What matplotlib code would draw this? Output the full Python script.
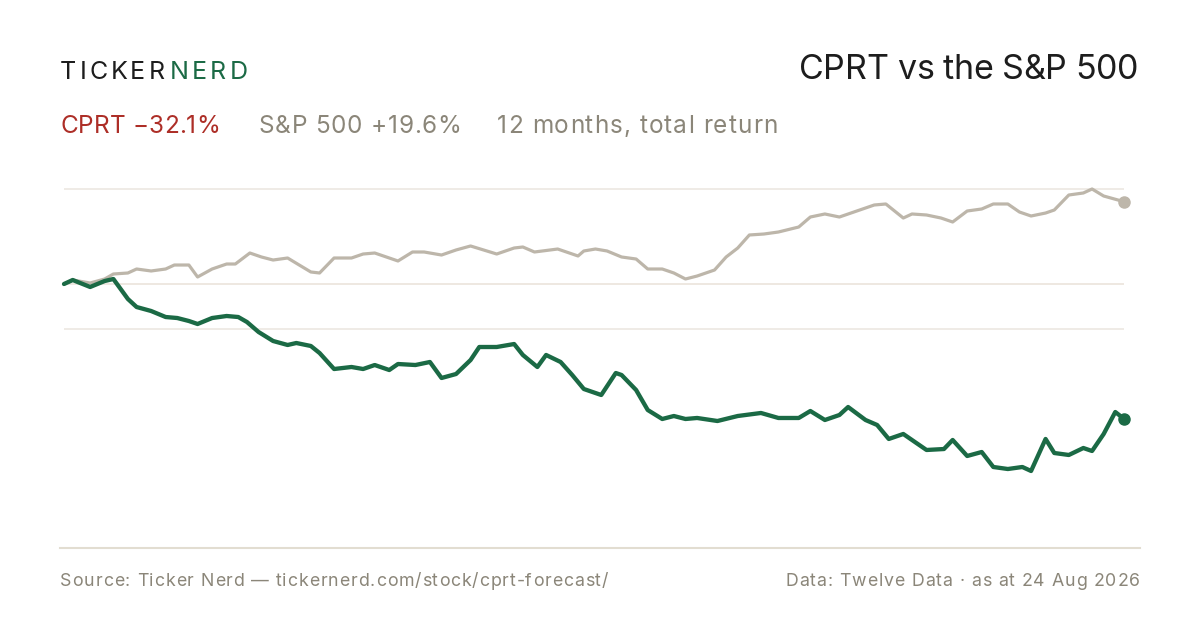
import matplotlib
matplotlib.use("Agg")
import matplotlib.pyplot as plt
from matplotlib.lines import Line2D

# ---------------- data ----------------
# days since start of the 12-month window, and total return (%)
sp_days = [0, 3, 9, 14, 17, 22, 25, 30, 35, 38, 43, 46, 51, 56, 59, 64, 68, 72, 77, 81,
           85, 88, 93, 99, 103, 107, 115, 120, 124, 130, 135, 140, 149, 155, 158, 162, 170,
           177, 179, 183, 187, 192, 197, 201, 206, 210, 214, 218, 224, 228, 232, 236, 241,
           246, 253, 257, 262, 267, 273, 279, 283, 289, 292, 297, 302, 306, 311, 316, 320,
           325, 329, 333, 338, 341, 346, 351, 354, 358, 365]
sp_ret = [0, 0.95, 0.24, 1.19, 2.38, 2.62, 3.57, 3.10, 3.57, 4.52, 4.52, 1.67, 3.57, 4.76,
          4.76, 7.38, 6.43, 5.71, 6.19, 4.52, 2.86, 2.62, 6.19, 6.19, 7.14, 7.38, 5.48, 7.62,
          7.62, 6.90, 8.10, 9.05, 7.14, 8.57, 8.81, 7.62, 8.33, 6.67, 7.86, 8.33, 7.86, 6.43,
          5.95, 3.57, 3.57, 2.62, 1.19, 1.90, 3.33, 6.43, 8.57, 11.67, 11.90, 12.38, 13.57,
          15.95, 16.67, 15.95, 17.38, 18.81, 19.05, 15.71, 16.67, 16.43, 15.71, 14.76, 17.38,
          17.86, 19.05, 19.05, 17.14, 16.19, 16.90, 17.62, 21.19, 21.67, 22.62, 20.95, 19.6]

cprt_days = [0, 3, 9, 14, 17, 22, 25, 30, 35, 39, 43, 46, 51, 56, 60, 63, 67, 72, 77, 80,
             85, 88, 93, 99, 103, 107, 112, 115, 121, 126, 130, 135, 140, 143, 149, 155, 158,
             163, 166, 171, 175, 179, 185, 190, 192, 197, 201, 206, 210, 214, 218, 225, 232,
             240, 246, 253, 257, 262, 267, 270, 276, 280, 284, 289, 293, 297, 303, 306, 311,
             316, 320, 325, 330, 333, 338, 341, 346, 351, 354, 358, 362, 365]
cprt_ret = [0, 0.95, -0.71, 0.71, 1.19, -3.57, -5.48, -6.43, -7.86, -8.10, -8.81, -9.52,
            -8.10, -7.62, -7.86, -9.05, -11.43, -13.57, -14.52, -14.05, -14.76, -16.43,
            -20.24, -19.76, -20.24, -19.29, -20.48, -19.05, -19.29, -18.57, -22.38, -21.43,
            -18.10, -15.00, -15.00, -14.29, -16.90, -19.76, -16.90, -18.57, -21.67, -25.00,
            -26.43, -21.19, -21.67, -25.24, -30.00, -32.14, -31.43, -32.14, -31.90, -32.62,
            -31.43, -30.71, -31.90, -31.90, -30.24, -32.38, -31.19, -29.29, -32.38, -33.57,
            -36.90, -35.71, -37.62, -39.52, -39.29, -37.14, -40.95, -40.00, -43.57, -44.05,
            -43.57, -44.52, -36.90, -40.24, -40.71, -39.05, -39.76, -35.71, -30.48, -32.1]

grid_values = [22.6, 0.0, -10.7]

brand_a = "TICKER"
brand_b = "NERD"
title = "CPRT vs the S&P 500"
sub_cprt = "CPRT \u221232.1%"
sub_sp = "S&P 500 +19.6%"
sub_note = "12 months, total return"
footer_left = "Source: Ticker Nerd \u2014 tickernerd.com/stock/cprt-forecast/"
footer_right = "Data: Twelve Data \u00b7 as at 24 Aug 2026"

# ---------------- style ----------------
W, H = 1200, 630
GREEN = "#1b6a45"
GREY_LINE = "#bdb6aa"
RED = "#ad2e27"
TEXT_GREY = "#8b8679"
DARK = "#1d1d1d"
FONT = ["Inter", "DejaVu Sans"]
plt.rcParams["font.family"] = FONT

fig = plt.figure(figsize=(W / 100, H / 100), dpi=100, facecolor="white")

def fx(px):
    return px / W

def fy(py):
    return 1 - py / H

# plot area: x 64..1124 px, y 180..540 px ; 4.2 px per percentage point, zero at 284
top_px, bot_px, zero_px, scale = 180, 540, 284, 4.2
ax = fig.add_axes([fx(64), fy(bot_px), (1124 - 64) / W, (bot_px - top_px) / H])
ax.set_xlim(0, 365)
ax.set_ylim((zero_px - bot_px) / scale, (zero_px - top_px) / scale)
ax.axis("off")

for gv in grid_values:
    ax.axhline(gv, color="#ebe6df" if gv != 0 else "#e9e1d9", lw=1.1, zorder=1)

ax.plot(sp_days, sp_ret, color=GREY_LINE, lw=2.3, solid_joinstyle="round",
        solid_capstyle="round", zorder=3, clip_on=False)
ax.plot(cprt_days, cprt_ret, color=GREEN, lw=3.1, solid_joinstyle="round",
        solid_capstyle="round", zorder=4, clip_on=False)
ax.plot([sp_days[-1]], [sp_ret[-1]], "o", color=GREY_LINE, ms=8, zorder=5, clip_on=False)
ax.plot([cprt_days[-1]], [cprt_ret[-1]], "o", color=GREEN, ms=8, zorder=6, clip_on=False)

# bottom rule
fig.add_artist(Line2D([fx(60), fx(1140)], [fy(548), fy(548)], color="#e2ddd1", lw=1.5))

# ---------------- text helpers ----------------
renderer = fig.canvas.get_renderer()
_probe = fig.text(0, 0, "", alpha=0)

def text_w(s, size):
    if not s:
        return 0.0
    _probe.set_fontsize(size)
    _probe.set_text(s + "x")
    w1 = _probe.get_window_extent(renderer).width
    _probe.set_text("x")
    w2 = _probe.get_window_extent(renderer).width
    return w1 - w2

def tracked(x_px, y_px, s, color, size, track, ha="left"):
    n = len(s)
    _probe.set_fontsize(size)
    _probe.set_text(s)
    total = _probe.get_window_extent(renderer).width + (n - 1) * track
    x0 = x_px - total if ha == "right" else x_px
    for i, ch in enumerate(s):
        if ch == " ":
            continue
        x = x0 + text_w(s[:i], size) + i * track
        fig.text(fx(x), fy(y_px), ch, color=color, fontsize=size,
                 ha="left", va="baseline")

# ---------------- header ----------------
tracked(60, 79, brand_a, DARK, 18, 3.0)
tracked(170, 79, brand_b, GREEN, 18, 3.0)

tracked(1138, 79, title, DARK, 24.5, -0.4, ha="right")

tracked(60, 133, sub_cprt, RED, 17.5, 0.2)
tracked(259, 133, sub_sp, TEXT_GREY, 17.5, 0.7)
tracked(497, 133, sub_note, TEXT_GREY, 17.5, 1.05)

# ---------------- footer ----------------
tracked(60, 586, footer_left, TEXT_GREY, 12.8, 0.88)
tracked(1140, 586, footer_right, TEXT_GREY, 12.8, 0.88, ha="right")

fig.savefig("out.png", dpi=100, facecolor="white")
